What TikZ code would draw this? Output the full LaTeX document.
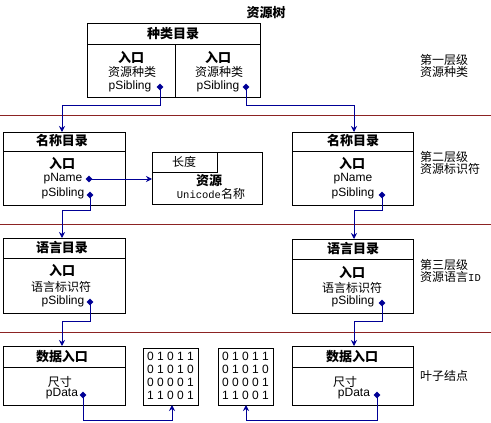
\documentclass[tikz,border=0pt]{standalone}
\usepackage{fontspec}
\setmainfont{Liberation Sans}
\newfontfamily\cjk{Noto Sans CJK SC}
\newfontfamily\monof{Liberation Mono}
\usetikzlibrary{arrows.meta,shapes.geometric}
\definecolor{connc}{RGB}{0,0,150}
\definecolor{rulec}{RGB}{140,35,35}
\begin{document}
\begin{tikzpicture}[x=1pt,y=-1pt,
  box/.style={draw=black,line width=0.8pt,anchor=north west,inner sep=0pt,outer sep=0pt},
  txt/.style={inner sep=0pt,font=\fontsize{12}{14}\selectfont\cjk},
  hdr/.style={inner sep=0pt,font=\fontsize{13}{14}\selectfont\cjk\bfseries},
  lat/.style={inner sep=0pt,font=\fontsize{12}{14}\selectfont},
  side/.style={inner sep=0pt,anchor=west,align=left,font=\fontsize{12}{12}\selectfont\cjk},
  bits/.style={inner sep=0pt,align=center,font=\fontsize{12}{13}\selectfont},
  dot/.style={diamond,fill=connc,inner sep=0pt,minimum size=7pt},
  link/.style={draw=connc,line width=0.9pt},
  arr/.style={link,-{Stealth[length=6pt,width=6pt]}},
  sep/.style={draw=rulec,line width=1pt}]
\useasboundingbox (0,0) rectangle (491,423);

% separators
\draw[sep] (0,115) -- (491,115);
\draw[sep] (0,224) -- (491,224);
\draw[sep] (0,332) -- (491,332);

% title
\node[hdr] (title) at (266,13) {资源树};

% top box
\node[box,minimum width=173pt,minimum height=74pt] (tb) at (87,23) {};
\draw[line width=0.8pt] (87,44) -- (260,44);
\draw[line width=0.8pt] (175,44) -- (175,97);
\node[hdr] (tbh) at (173,34) {种类目录};
\node[hdr] (tbe1) at (131,57) {入口};
\node[txt] (tbk1) at (132,72) {资源种类};
\node[lat] (tbs1) at (130,86) {pSibling};
\node[dot] (dtl) at (160,87) {};
\node[hdr] (tbe2) at (218,57) {入口};
\node[txt] (tbk2) at (219,72) {资源种类};
\node[lat] (tbs2) at (218,86) {pSibling};
\node[dot] (dtr) at (246,87) {};

% name boxes
\node[box,minimum width=122pt,minimum height=73pt] (nl) at (3,132) {};
\draw[line width=0.8pt] (3,151) -- (125,151);
\node[hdr] (nlh) at (62,141) {名称目录};
\node[hdr] (nle) at (62,163) {入口};
\node[lat] (nlp) at (63,179) {pName};
\node[dot] (dpn) at (89,179) {};
\node[lat] (nls) at (63,193) {pSibling};
\node[dot] (dnl) at (90,195) {};

\node[box,minimum width=121pt,minimum height=73pt] (nr) at (292,132) {};
\draw[line width=0.8pt] (292,151) -- (413,151);
\node[hdr] (nrh) at (353,141) {名称目录};
\node[hdr] (nre) at (352,163) {入口};
\node[lat] (nrp) at (353,179) {pName};
\node[lat] (nrs) at (353,193) {pSibling};
\node[dot] (dnr) at (382,195) {};

% resource box
\node[box,minimum width=110pt,minimum height=52pt] (rb) at (152,152) {};
\node[box,minimum width=65pt,minimum height=20pt] (lenbox) at (152,152) {};
\node[txt] (lent) at (184,162) {长度};
\node[hdr] (rbh) at (209,181) {资源};
\node[txt] (rbu) at (211,194) {{\monof\fontsize{10.5}{12}\selectfont Unicode}名称};

% language boxes
\node[box,minimum width=122pt,minimum height=75pt] (ll) at (3,238) {};
\draw[line width=0.8pt] (3,258) -- (125,258);
\node[hdr] (llh) at (62,248) {语言目录};
\node[hdr] (lle) at (62,270) {入口};
\node[txt] (lli) at (61,287) {语言标识符};
\node[lat] (lls) at (63,301) {pSibling};
\node[dot] (dll) at (90,302) {};

\node[box,minimum width=121pt,minimum height=74pt] (lr) at (292,239) {};
\draw[line width=0.8pt] (292,259) -- (413,259);
\node[hdr] (lrh) at (353,249) {语言目录};
\node[hdr] (lre) at (352,272) {入口};
\node[txt] (lri) at (352,288) {语言标识符};
\node[lat] (lrs) at (353,301) {pSibling};
\node[dot] (dlr) at (382,303) {};

% data boxes
\node[box,minimum width=122pt,minimum height=59pt] (dl) at (3,346) {};
\draw[line width=0.8pt] (3,367) -- (125,367);
\node[hdr] (dlh) at (62,357) {数据入口};
\node[txt] (dls) at (60,382) {尺寸};
\node[lat] (dlp) at (62,394) {pData};
\node[dot] (ddl) at (83,395) {};

\node[box,minimum width=121pt,minimum height=59pt] (dr) at (292,346) {};
\draw[line width=0.8pt] (292,367) -- (413,367);
\node[hdr] (drh) at (352,357) {数据入口};
\node[txt] (drs) at (345,382) {尺寸};
\node[lat] (drp) at (354,394) {pData};
\node[dot] (ddr) at (377,395) {};

% binary boxes
\node[box,minimum width=55pt,minimum height=57pt] (b1) at (143,348) {};
\node[bits] (b1t) at (170.5,376) {0 1 0 1 1\\0 1 0 1 0\\0 0 0 0 1\\1 1 0 0 1};
\node[box,minimum width=55pt,minimum height=57pt] (b2) at (218,348) {};
\node[bits] (b2t) at (245.5,376) {0 1 0 1 1\\0 1 0 1 0\\0 0 0 0 1\\1 1 0 0 1};

% side labels
\node[side] (s1) at (420,65.5) {第一层级\\资源种类};
\node[side] (s2) at (420,162.5) {第二层级\\资源标识符};
\node[side] (s3) at (420,270.5) {第三层级\\资源语言{\monof\fontsize{10.5}{12}\selectfont ID}};
\node[side] (s4) at (420,376) {叶子结点};

% connectors
\coordinate (c1) at (62,105);
\coordinate (c2) at (354,105);
\draw[arr] (dtl.center) |- (c1) -- (c1 |- nl.north);
\draw[arr] (dtr.center) |- (c2) -- (c2 |- nr.north);
\draw[arr] (dpn.center) -- (dpn -| rb.west);
\coordinate (c3) at (62,210);
\coordinate (c4) at (354,210);
\draw[arr] (dnl.center) |- (c3) -- (c3 |- ll.north);
\draw[arr] (dnr.center) |- (c4) -- (c4 |- lr.north);
\coordinate (c5) at (62,321);
\coordinate (c6) at (354,321);
\draw[arr] (dll.center) |- (c5) -- (c5 |- dl.north);
\draw[arr] (dlr.center) |- (c6) -- (c6 |- dr.north);
\coordinate (c7) at (172,420);
\coordinate (c8) at (246,420);
\draw[arr] (ddl.center) |- (c7) -- (c7 |- b1.south);
\draw[arr] (ddr.center) |- (c8) -- (c8 |- b2.south);
\end{tikzpicture}
\end{document}
